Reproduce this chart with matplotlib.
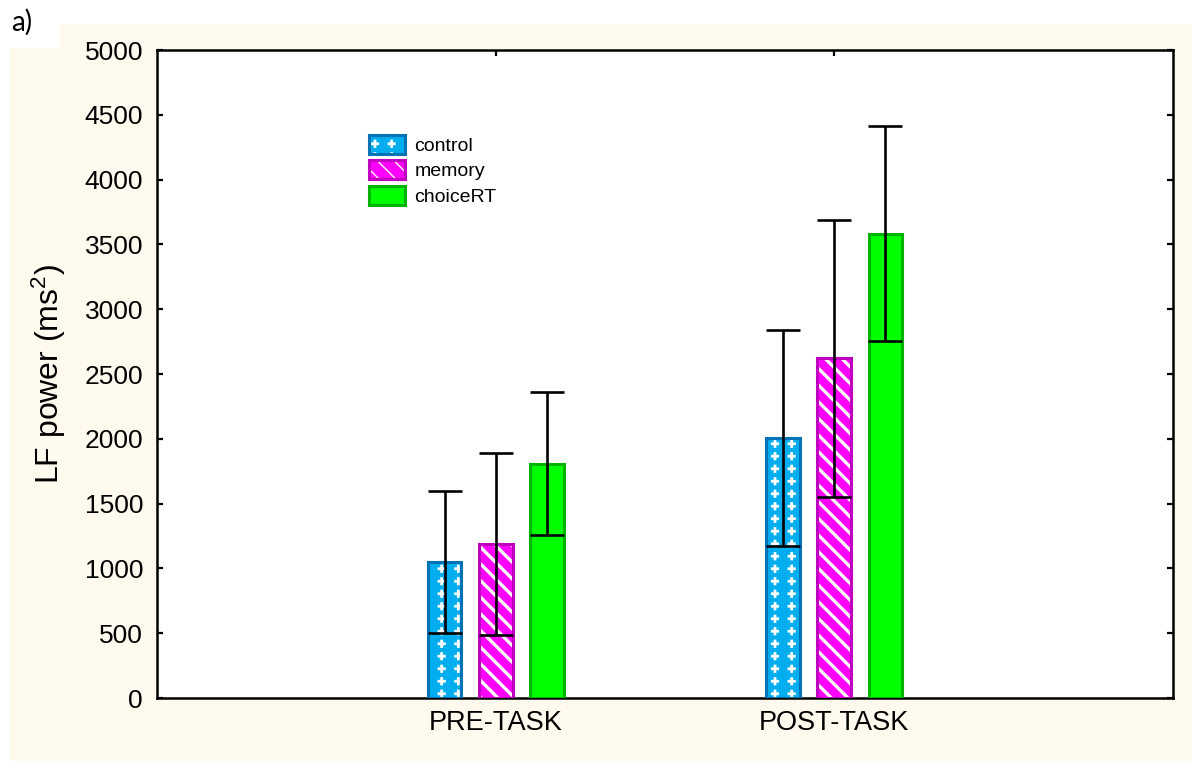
import numpy as np
import matplotlib
matplotlib.use("Agg")
import matplotlib.pyplot as plt
import matplotlib.hatch as mhatch
from matplotlib.path import Path
from matplotlib.patches import Patch, Polygon

# ---------------- data ----------------
categories = ['PRE-TASK', 'POST-TASK']
series = ['control', 'memory', 'choiceRT']
control_mean = [1048, 2006]
control_err = [548, 833]
memory_mean = [1186, 2621]
memory_err = [702, 1068]
choice_mean = [1808, 3583]
choice_err = [551, 830]
yticks = [0, 500, 1000, 1500, 2000, 2500, 3000, 3500, 4000, 4500, 5000]


# ---------------- custom "plus" hatch (replaces small circles 'o') -------------
class PlusHatch(mhatch.HatchPatternBase):
    def __init__(self, hatch, density):
        c = hatch.count('o')
        self.nx = 6 * c
        self.ny = 8 * c
        a, b = 0.034, 0.007
        verts = [(-b, -a), (b, -a), (b, -b), (a, -b), (a, b), (b, b), (b, a),
                 (-b, a), (-b, b), (-a, b), (-a, -b), (-b, -b), (-b, -a)]
        self.shape_vertices = np.array(verts, float)
        self.shape_codes = np.full(len(verts), Path.LINETO, dtype=Path.code_type)
        self.shape_codes[0] = Path.MOVETO
        self.shape_codes[-1] = Path.CLOSEPOLY
        self.num_vertices = self.nx * self.ny * len(verts)

    def set_vertices_and_codes(self, vertices, codes):
        k = len(self.shape_vertices)
        idx = 0
        for i in range(self.nx):
            for j in range(self.ny):
                cx = (i + 0.5) / self.nx
                cy = (j + 0.5) / self.ny
                vertices[idx:idx + k] = self.shape_vertices + [cx, cy]
                codes[idx:idx + k] = self.shape_codes
                idx += k


mhatch._hatch_types = [PlusHatch if t is mhatch.SmallCircles else t
                       for t in mhatch._hatch_types]

plt.rcParams['mathtext.fontset'] = 'custom'
plt.rcParams['mathtext.rm'] = 'Liberation Sans'
plt.rcParams['mathtext.it'] = 'Liberation Sans:italic'

# ---------------- styles ----------------
fills = ['#00AEEF', '#FF00FF', '#00FF00']
edges = ['#0072B5', '#C000C0', '#00B400']
hatches = ['o', '\\\\', None]
hatch_lw = [1.0, 2.4, 1.0]

fig = plt.figure(figsize=(11.92, 7.61), dpi=100)
fig.patch.set_facecolor('white')
W, H = 1192.0, 761.0
bg_px = [(10, 48), (60, 48), (60, 24), (1192, 24), (1192, 761), (10, 761)]
bg = Polygon([(x / W, 1 - y / H) for x, y in bg_px], closed=True,
             transform=fig.transFigure, facecolor='#FFF9EE', edgecolor='none', zorder=-5)
fig.patches.append(bg)

fig.text(11 / W, 1 - 31 / H, 'a)', fontsize=20, family=['Lato', 'DejaVu Sans'],
         ha='left', va='baseline')

ax = fig.add_axes([157 / W, 1 - 698 / H, (1173 - 157) / W, (698 - 50) / H])
ax.set_facecolor('white')

x = np.arange(1, len(categories) + 1)
width = 0.1
offsets = [-0.151, 0.0, 0.151]
means = [control_mean, memory_mean, choice_mean]
errs = [control_err, memory_err, choice_err]

handles = []
for k in range(3):
    pos = x + offsets[k]
    with plt.rc_context({'hatch.linewidth': hatch_lw[k]}):
        b1 = ax.bar(pos, means[k], width, color=fills[k], edgecolor='white',
                    linewidth=0, hatch=hatches[k], zorder=2)
        for p in b1:
            if hasattr(p, 'set_hatch_linewidth'):
                p.set_hatch_linewidth(hatch_lw[k])
        ax.bar(pos, means[k], width, facecolor='none', edgecolor=edges[k],
               linewidth=2.2, zorder=3)
        hp = Patch(facecolor=fills[k], edgecolor='white', linewidth=0, hatch=hatches[k])
        if hasattr(hp, 'set_hatch_linewidth'):
            hp.set_hatch_linewidth(hatch_lw[k])
    he = Patch(facecolor='none', edgecolor=edges[k], linewidth=2.2)
    handles.append((hp, he))
    ax.errorbar(pos, means[k], yerr=errs[k], fmt='none', ecolor='black',
                elinewidth=1.9, capsize=12.2, capthick=1.9, zorder=4)

ax.set_xlim(0, 3)
ax.set_ylim(0, 5000)
ax.set_yticks(yticks)
ax.set_xticks(x)
ax.set_xticklabels(categories)
for s in ax.spines.values():
    s.set_linewidth(1.8)
    s.set_color('black')
ax.tick_params(axis='both', direction='in', length=4, width=1.6, colors='black',
               labelsize=19, top=True, right=True)
ax.tick_params(axis='y', pad=10)
ax.tick_params(axis='x', pad=9, labelsize=19.5)
for lab in ax.get_xticklabels() + ax.get_yticklabels():
    lab.set_family(['Liberation Sans', 'DejaVu Sans'])

ax.set_ylabel('LF power (ms$^2$)', fontsize=23, family=['Liberation Sans', 'DejaVu Sans'])
ax.yaxis.set_label_coords(-0.088, 0.5)

leg = ax.legend(handles, series, loc='upper left',
                bbox_to_anchor=((361 - 157) / 1016, (698 - 127) / 648),
                borderaxespad=0, frameon=False,
                handlelength=1.85, handleheight=1.13, labelspacing=0.28,
                handletextpad=0.5, prop={'family': ['Liberation Sans', 'DejaVu Sans'], 'size': 14})

fig.savefig('out.png', dpi=100, facecolor=fig.get_facecolor())
